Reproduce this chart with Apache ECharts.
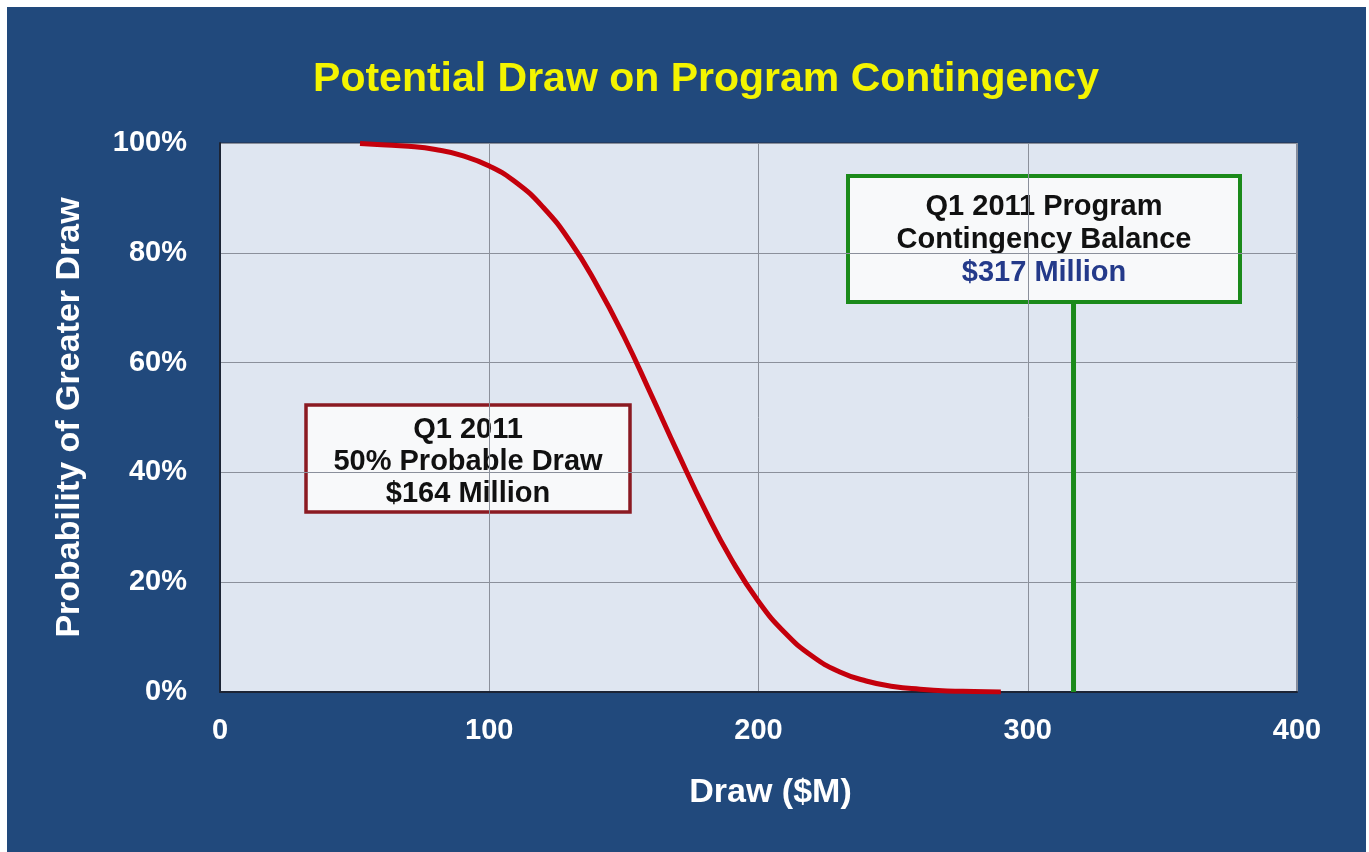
<!DOCTYPE html>
<html>
<head>
<meta charset="utf-8">
<script src="https://cdn.jsdelivr.net/npm/echarts@6.0.0/dist/echarts.min.js"></script>
<style>
  html, body { margin: 0; padding: 0; background: #ffffff; }
  #main { position: absolute; left: 7px; top: 7px; width: 1359px; height: 845px; }
</style>
</head>
<body>
<div id="main"></div>
<script>
// draw ($M) and probability of a greater draw (%)
var drawM = [52, 60, 70, 80, 90, 100, 110, 120, 130, 140, 150, 160, 170,
             180, 190, 200, 210, 220, 230, 240, 250, 260, 270, 280, 290];
var probPct = [99.9, 99.7, 99.4, 98.8, 97.7, 95.8, 92.8, 88.3, 82.1, 74.1, 64.8, 54.3, 43.6,
               33.3, 24.1, 16.5, 10.7, 6.5, 3.7, 2.0, 1.0, 0.5, 0.2, 0.1, 0.0];

// contingency balance marker
var balanceX = 317;
var balanceLine = [0, 71];

var xTicks = [0, 100, 200, 300, 400];
var yTicks = [0, 20, 40, 60, 80, 100];

var curve = [];
for (var i = 0; i < drawM.length; i++) {
    curve.push([drawM[i], probPct[i]]);
}

var font = '"Liberation Sans", Arial, sans-serif';

var myChart = echarts.init(document.getElementById('main'));
var option = {
    backgroundColor: '#21497c',
    animation: false,
    title: {
        text: 'Potential Draw on Program Contingency',
        left: 694,
        textAlign: 'center',
        top: 47,
        textStyle: { color: '#f4f400', fontSize: 41, fontWeight: 'bold', fontFamily: font }
    },
    grid: {
        left: 213, top: 136, right: 69, bottom: 160,
        show: true,
        backgroundColor: '#dfe6f1',
        borderColor: '#26314a',
        borderWidth: 1
    },
    xAxis: {
        type: 'value',
        min: xTicks[0], max: xTicks[xTicks.length - 1], interval: 100,
        name: 'Draw ($M)',
        nameLocation: 'middle',
        nameGap: 84,
        nameTextStyle: { color: '#ffffff', fontSize: 34, fontWeight: 'bold', fontFamily: font, padding: [0, 0, 0, 24] },
        axisLine: { lineStyle: { color: '#1c2435', width: 2 } },
        axisTick: { show: false },
        axisLabel: { color: '#ffffff', fontSize: 29, fontWeight: 'bold', fontFamily: font, margin: 24 },
        splitLine: { lineStyle: { color: '#8b909b', width: 1 } }
    },
    yAxis: {
        type: 'value',
        min: yTicks[0], max: yTicks[yTicks.length - 1], interval: 20,
        name: 'Probability of Greater Draw',
        nameLocation: 'middle',
        nameGap: 133,
        nameTextStyle: { color: '#ffffff', fontSize: 34, fontWeight: 'bold', fontFamily: font },
        axisLine: { show: true, lineStyle: { color: '#1c2435', width: 2 } },
        axisTick: { show: false },
        axisLabel: { color: '#ffffff', fontSize: 29, fontWeight: 'bold', fontFamily: font, margin: 33, formatter: '{value}%' },
        splitLine: { lineStyle: { color: '#8b909b', width: 1 } }
    },
    series: [
        {
            type: 'line',
            data: curve,
            smooth: true,
            symbol: 'none',
            lineStyle: { color: '#c4000c', width: 5 },
            z: 3
        },
        {
            type: 'line',
            data: [[balanceX, balanceLine[0]], [balanceX, balanceLine[1]]],
            symbol: 'none',
            lineStyle: { color: '#1b8a1b', width: 5 },
            z: 2
        }
    ],
    graphic: [
        {
            type: 'group',
            children: [
                {
                    type: 'rect',
                    shape: { x: 841, y: 169, width: 392, height: 126 },
                    style: { fill: '#f8f9fa', stroke: '#1b8a1b', lineWidth: 4 }
                },
                {
                    type: 'text',
                    x: 1037, y: 233,
                    style: {
                        text: '{a|Q1 2011 Program}\n{a|Contingency Balance}\n{b|$317 Million}',
                        align: 'center',
                        verticalAlign: 'middle',
                        rich: {
                            a: { fill: '#111111', fontSize: 29, fontWeight: 'bold', fontFamily: font, lineHeight: 33, align: 'center' },
                            b: { fill: '#243a8a', fontSize: 29, fontWeight: 'bold', fontFamily: font, lineHeight: 33, align: 'center' }
                        }
                    }
                }
            ]
        },
        {
            type: 'group',
            children: [
                {
                    type: 'rect',
                    shape: { x: 299, y: 398, width: 324, height: 107 },
                    style: { fill: '#f8f9fa', stroke: '#8b1a22', lineWidth: 3.5 }
                },
                {
                    type: 'text',
                    x: 461, y: 455,
                    style: {
                        text: 'Q1 2011\n50% Probable Draw\n$164 Million',
                        align: 'center',
                        verticalAlign: 'middle',
                        fill: '#111111',
                        fontSize: 29,
                        fontWeight: 'bold',
                        fontFamily: font,
                        lineHeight: 32
                    }
                }
            ]
        }
    ]
};

myChart.setOption(option);
</script>
</body>
</html>
